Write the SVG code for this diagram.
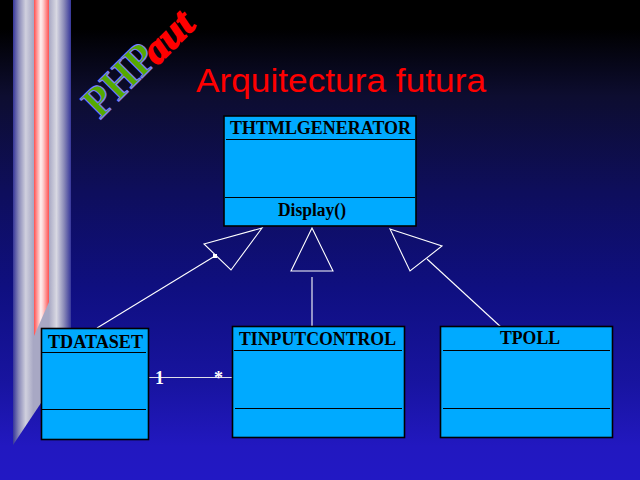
<svg xmlns="http://www.w3.org/2000/svg" width="640" height="480" viewBox="0 0 640 480">
<style>
.box{fill:#00aaff;stroke:#000;stroke-width:1.6}
.div{stroke:#000;stroke-width:1.2;fill:none}
.name{font-family:"Liberation Serif",serif;font-weight:bold;font-size:18px;fill:#000}
.edge{stroke:#fff;stroke-width:1.1;fill:none}
.mult{font-family:"Liberation Serif",serif;font-weight:bold;font-size:18px;fill:#fff}
</style>
<defs>
<linearGradient id="bg" x1="0" y1="0" x2="0" y2="1">
<stop offset="0" stop-color="#000"/><stop offset="0.06" stop-color="#000"/>
<stop offset="0.2" stop-color="#0d0d30"/><stop offset="0.4" stop-color="#0e0e5c"/>
<stop offset="0.6" stop-color="#0f0f80"/><stop offset="0.8" stop-color="#1814a0"/>
<stop offset="0.93" stop-color="#2218c0"/><stop offset="1" stop-color="#2218c4"/>
</linearGradient>
<linearGradient id="stripe" gradientUnits="userSpaceOnUse" x1="13" y1="0" x2="71" y2="0">
<stop offset="0" stop-color="#36369a"/><stop offset="0.1" stop-color="#8a8ab8"/>
<stop offset="0.22" stop-color="#d0d0de"/><stop offset="0.35" stop-color="#a8a8c4"/>
<stop offset="0.62" stop-color="#a8a8c4"/><stop offset="0.75" stop-color="#d8d8e2"/>
<stop offset="0.88" stop-color="#8a8ab8"/><stop offset="1" stop-color="#36369a"/>
</linearGradient>
<linearGradient id="red" gradientUnits="userSpaceOnUse" x1="34" y1="0" x2="49" y2="0">
<stop offset="0" stop-color="#ff5050"/><stop offset="0.45" stop-color="#fff0f0"/>
<stop offset="0.6" stop-color="#ffd0d0"/><stop offset="1" stop-color="#ff5050"/>
</linearGradient>
</defs>
<rect width="640" height="480" fill="url(#bg)"/>
<polygon points="13,0 71,0 71,358 13,445" fill="url(#stripe)"/>
<polygon points="34,0 49,0 49,302 34,336" fill="url(#red)"/>
<g id="logo">
<text transform="translate(100,120) rotate(-45)" font-family="Liberation Serif,serif" font-weight="bold" font-size="44" fill="#55aa00" stroke="#7f7fff" stroke-width="1.2" textLength="84" lengthAdjust="spacingAndGlyphs">PHP</text>
<text transform="translate(157,66) rotate(-45)" font-family="Liberation Serif,serif" font-weight="bold" font-style="italic" font-size="40" fill="#ff0000" stroke="#ff0000" stroke-width="1.6" textLength="56" lengthAdjust="spacingAndGlyphs">aut</text>
</g>
<text id="title" x="196" y="92" font-family="Liberation Sans,sans-serif" font-size="34" fill="#ff0000" textLength="290" lengthAdjust="spacingAndGlyphs">Arquitectura futura</text>
<g id="connectors">
<line class="edge" x1="97" y1="328" x2="215" y2="256"/>
<polygon class="edge" points="262,228 204,244 231,270"/>
<line class="edge" x1="312" y1="277" x2="312" y2="326"/>
<polygon class="edge" points="312,228 291,271 333,271"/>
<line class="edge" x1="427" y1="259" x2="502" y2="328"/>
<polygon class="edge" points="390,229 442,246 410,271"/>
<line x1="148" y1="377.5" x2="233" y2="377.5" stroke="#e0e0e8" stroke-width="1"/>
<text class="mult" x="155" y="384">1</text>
<text class="mult" x="214" y="384">*</text>
<rect x="213" y="254" width="4" height="4" fill="#fff"/>
</g>
<g id="thtmlgenerator">
<rect class="box" x="224" y="116" width="192" height="110"/>
<line class="div" x1="226" y1="139.5" x2="415" y2="139.5"/>
<line class="div" x1="225" y1="197.5" x2="415" y2="197.5"/>
<text class="name" x="230" y="134" textLength="181" lengthAdjust="spacingAndGlyphs">THTMLGENERATOR</text>
<text class="name" x="278" y="216" textLength="68" lengthAdjust="spacingAndGlyphs">Display()</text>
</g>
<g id="tdataset">
<rect class="box" x="41.5" y="328.5" width="107" height="111"/>
<line class="div" x1="42" y1="352.5" x2="146" y2="352.5"/>
<line class="div" x1="42" y1="409.5" x2="146" y2="409.5"/>
<text class="name" x="48" y="348" textLength="95" lengthAdjust="spacingAndGlyphs">TDATASET</text>
</g>
<g id="tinputcontrol">
<rect class="box" x="232.5" y="326.5" width="172" height="111"/>
<line class="div" x1="234" y1="350.5" x2="402" y2="350.5"/>
<line class="div" x1="235" y1="408.5" x2="402" y2="408.5"/>
<text class="name" x="239" y="345" textLength="157" lengthAdjust="spacingAndGlyphs">TINPUTCONTROL</text>
</g>
<g id="tpoll">
<rect class="box" x="440.5" y="326.5" width="172" height="111"/>
<line class="div" x1="443" y1="350.5" x2="610" y2="350.5"/>
<line class="div" x1="443" y1="408.5" x2="610" y2="408.5"/>
<text class="name" x="500" y="344" textLength="60" lengthAdjust="spacingAndGlyphs">TPOLL</text>
</g>
</svg>
